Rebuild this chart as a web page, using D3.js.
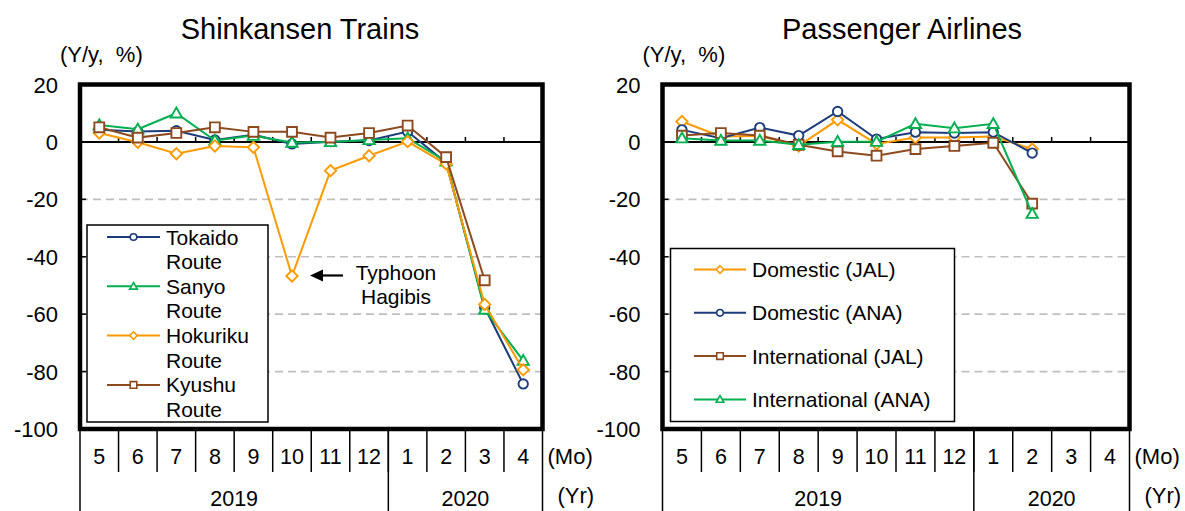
<!DOCTYPE html>
<html><head><meta charset="utf-8">
<script src="https://cdn.jsdelivr.net/npm/d3@7"></script>
<style>
html,body{margin:0;padding:0;background:#fff;}
text{font-family:"Liberation Sans",Arial,sans-serif;fill:#000;}
</style></head>
<body>
<svg id="chart" width="1185" height="511"></svg>
<script>
// ---------- data ----------
const months = ["5","6","7","8","9","10","11","12","1","2","3","4"];
const yearLabels = ["2019","2020"];
const yearSpans = [8,4];
const yTicks = [20,0,-20,-40,-60,-80,-100];
const gridTicks = [-20,-40,-60,-80];

const leftTitle = "Shinkansen Trains";
const rightTitle = "Passenger Airlines";

const tokaido  = [4.2, 3.6, 3.9, 0.7, 2.5, -0.7, 0.1, 0.5, 3.6, -7.3, -57.7, -84.3];
const sanyo    = [5.9, 4.4, 10.0, 0.5, 2.2, -0.2, 0.0, 0.7, 1.3, -6.8, -58.4, -76.2];
const hokuriku = [3.1, -0.1, -4.1, -1.4, -1.9, -46.7, -10.0, -4.8, 0.1, -7.7, -56.6, -79.4];
const kyushu   = [5.1, 1.5, 3.1, 5.1, 3.5, 3.5, 1.5, 3.1, 5.7, -5.3, -48.2, null];

const domJAL  = [7.1, 1.9, 2.1, -1.4, 7.7, -0.7, 1.5, 1.5, 1.9, -2.5, null, null];
const domANA  = [4.2, 1.3, 5.0, 2.2, 10.6, 1.0, 3.4, 3.1, 3.4, -3.9, null, null];
const intlJAL = [2.2, 3.1, 2.2, -1.0, -3.3, -4.8, -2.5, -1.4, -0.3, -21.5, null, null];
const intlANA = [1.3, 0.5, 0.5, -1.0, 0.1, 0.1, 6.3, 4.8, 6.3, -25.0, null, null];

const leftNames  = ["Tokaido", "Sanyo", "Hokuriku", "Kyushu"];
const rightNames = ["Domestic (JAL)", "Domestic (ANA)", "International (JAL)", "International (ANA)"];

// ---------- styles ----------
const C = {navy:"#1D3C7C", green:"#00B050", orange:"#FF9A00", brown:"#8C4A1E"};
const leftSeries = [
  {name:leftNames[0], values:tokaido,  color:C.navy,   shape:"circle"},
  {name:leftNames[1], values:sanyo,    color:C.green,  shape:"triangle"},
  {name:leftNames[2], values:hokuriku, color:C.orange, shape:"diamond"},
  {name:leftNames[3], values:kyushu,   color:C.brown,  shape:"square"}
];
const rightSeries = [
  {name:rightNames[0], values:domJAL,  color:C.orange, shape:"diamond"},
  {name:rightNames[1], values:domANA,  color:C.navy,   shape:"circle"},
  {name:rightNames[2], values:intlJAL, color:C.brown,  shape:"square"},
  {name:rightNames[3], values:intlANA, color:C.green,  shape:"triangle"}
];

function markerPath(shape, s) {
  if (shape === "circle") {
    return `M${-s},0A${s},${s} 0 1,0 ${s},0A${s},${s} 0 1,0 ${-s},0Z`;
  } else if (shape === "square") {
    return `M${-s},${-s}H${s}V${s}H${-s}Z`;
  } else if (shape === "triangle") {
    const h = s * 1.15;
    return `M0,${-h}L${h},${h*0.75}L${-h},${h*0.75}Z`;
  } else {
    const d = s * 1.15;
    return `M0,${-d}L${d},0L0,${d}L${-d},0Z`;
  }
}

const svg = d3.select("#chart");

function drawPanel(cfg) {
  const g = svg.append("g");
  const x = d3.scaleBand().domain(months).range([cfg.x0, cfg.x1]).padding(0);
  const y = d3.scaleLinear().domain([-100, 20]).range([cfg.yB, cfg.yT]);
  const bw = x.bandwidth();

  g.append("text").attr("x", cfg.titleX).attr("y", 39).attr("text-anchor","middle")
    .style("font-size","29px").text(cfg.title);
  g.append("text").attr("x", cfg.x0 - 20).attr("y", 62)
    .style("font-size","22px").attr("xml:space","preserve").style("white-space","pre").text("(Y/y,  %)");

  g.selectAll(".ylab").data(yTicks).enter().append("text")
    .attr("x", cfg.x0 - 22).attr("y", d => y(d) + 8).attr("text-anchor","end")
    .style("font-size","22px").text(d => d);

  g.selectAll(".grid").data(gridTicks).enter().append("line")
    .attr("x1", cfg.x0).attr("x2", cfg.x1).attr("y1", d => y(d)).attr("y2", d => y(d))
    .attr("stroke","#BFBFBF").attr("stroke-width",1.6).attr("stroke-dasharray","8,5");

  g.selectAll(".ytick").data(yTicks).enter().append("line")
    .attr("x1", cfg.x0).attr("x2", cfg.x0 + 6).attr("y1", d => y(d)).attr("y2", d => y(d))
    .attr("stroke","#000").attr("stroke-width",1.5);

  g.append("line").attr("x1", cfg.x0).attr("x2", cfg.x1).attr("y1", y(0)).attr("y2", y(0))
    .attr("stroke","#000").attr("stroke-width",2);
  g.selectAll(".xtick").data(months.slice(1)).enter().append("line")
    .attr("x1", d => x(d)).attr("x2", d => x(d)).attr("y1", y(0)).attr("y2", y(0) - 5)
    .attr("stroke","#000").attr("stroke-width",1.5);

  const line = d3.line().defined(d => d.v !== null)
    .x(d => x(d.m) + bw/2).y(d => y(d.v));
  cfg.series.forEach(s => {
    const pts = s.values.map((v,i) => ({m: months[i], v: v}));
    g.append("path").datum(pts).attr("d", line).attr("fill","none")
      .attr("stroke", s.color).attr("stroke-width", 2);
    g.selectAll(null).data(pts.filter(p => p.v !== null)).enter().append("path")
      .attr("transform", p => `translate(${x(p.m) + bw/2},${y(p.v)})`)
      .attr("d", markerPath(s.shape, s.shape === "circle" ? 4.7 : 4.9))
      .attr("fill","#fff").attr("stroke", s.color).attr("stroke-width", 1.9);
  });

  const L = cfg.legend;
  g.append("rect").attr("x", L.x).attr("y", L.y).attr("width", L.w).attr("height", L.h)
    .attr("fill","#fff").attr("stroke","#000").attr("stroke-width",1.5);
  cfg.series.forEach((s, i) => {
    const cy = L.firstY + i * L.step;
    g.append("line").attr("x1", L.lx0).attr("x2", L.lx1).attr("y1", cy).attr("y2", cy)
      .attr("stroke", s.color).attr("stroke-width", 2);
    g.append("path").attr("transform", `translate(${(L.lx0 + L.lx1)/2},${cy})`)
      .attr("d", markerPath(s.shape, 3.3))
      .attr("fill","#fff").attr("stroke", s.color).attr("stroke-width", 1.6);
    const t = g.append("text").attr("x", L.tx).attr("y", cy + 7.5).style("font-size","21px");
    t.append("tspan").attr("x", L.tx).text(s.name);
    if (L.suffix) t.append("tspan").attr("x", L.tx).attr("dy", 24.5).text(L.suffix);
  });

  g.append("rect").attr("x", cfg.x0).attr("y", cfg.yT).attr("width", cfg.x1 - cfg.x0)
    .attr("height", cfg.yB - cfg.yT).attr("fill","none").attr("stroke","#000").attr("stroke-width",4.5);

  const rowM = cfg.yB + 43;
  g.selectAll(".msep").data(months.slice(1)).enter().append("line")
    .attr("x1", d => x(d)).attr("x2", d => x(d)).attr("y1", cfg.yB).attr("y2", rowM)
    .attr("stroke","#000").attr("stroke-width",1.5);
  g.selectAll(".mlab").data(months).enter().append("text")
    .attr("x", d => x(d) + bw/2).attr("y", cfg.yB + 35).attr("text-anchor","middle")
    .style("font-size","21.5px").text(d => d);
  let acc = 0;
  const ybounds = [0];
  yearSpans.forEach(n => { acc += n; ybounds.push(acc); });
  g.selectAll(".ysep").data(ybounds).enter().append("line")
    .attr("x1", i => i < months.length ? x(months[i]) : cfg.x1)
    .attr("x2", i => i < months.length ? x(months[i]) : cfg.x1)
    .attr("y1", cfg.yB).attr("y2", 511)
    .attr("stroke","#000").attr("stroke-width",1.5);
  g.selectAll(".ylab2").data(yearLabels).enter().append("text")
    .attr("x", (d,i) => {
      const a = x(months[ybounds[i]]);
      const b = ybounds[i+1] < months.length ? x(months[ybounds[i+1]]) : cfg.x1;
      return (a + b) / 2;
    })
    .attr("y", 506).attr("text-anchor","middle").style("font-size","21.5px").text(d => d);
  g.append("text").attr("x", cfg.x1 + 5).attr("y", cfg.yB + 35).style("font-size","22px").text("(Mo)");
  g.append("text").attr("x", cfg.x1 + 15).attr("y", 503).style("font-size","22px").text("(Yr)");

  return {g, x, y, bw};
}

const left = drawPanel({
  title: leftTitle, titleX: 300, x0: 80, x1: 542.5, yT: 84.5, yB: 429,
  series: leftSeries,
  legend: {x:87, y:225, w:181, h:197, firstY:237, step:49.3, lx0:107, lx1:160, tx:166, suffix:"Route"}
});
const right = drawPanel({
  title: rightTitle, titleX: 902, x0: 662.5, x1: 1129.5, yT: 84.5, yB: 429,
  series: rightSeries,
  legend: {x:670.5, y:248.5, w:284, h:173, firstY:269.5, step:43.3, lx0:694, lx1:746, tx:752, suffix:null}
});

// Typhoon annotation (anchored to Hokuriku October point)
const ax = left.x("10") + left.bw/2, ay = left.y(hokuriku[5]);
const ann = left.g.append("g");
ann.append("line").attr("x1", ax + 30).attr("x2", ax + 51).attr("y1", ay - 0.5).attr("y2", ay - 0.5)
  .attr("stroke","#000").attr("stroke-width",2.2);
ann.append("path")
  .attr("d", `M${ax + 18},${ay - 0.5}L${ax + 31},${ay - 6.5}L${ax + 31},${ay + 5.5}Z`).attr("fill","#000");
ann.append("text").attr("x", 396).attr("y", 280).attr("text-anchor","middle").style("font-size","21px").text("Typhoon");
ann.append("text").attr("x", 396).attr("y", 304).attr("text-anchor","middle").style("font-size","21px").text("Hagibis");
</script>
</body></html>
